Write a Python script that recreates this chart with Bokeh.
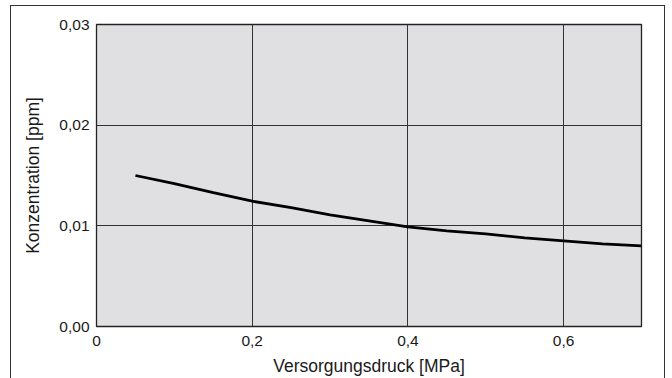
from bokeh.plotting import figure
from bokeh.models import FixedTicker, Range1d, InlineStyleSheet
from bokeh.embed import file_html
from bokeh.resources import INLINE

# data
pressure = [0.05, 0.10, 0.15, 0.20, 0.25, 0.30, 0.35, 0.40, 0.45, 0.50, 0.55, 0.60, 0.65, 0.70]
concentration = [0.0150, 0.0142, 0.0133, 0.01245, 0.0118, 0.0111, 0.0105, 0.0099,
                 0.0095, 0.0092, 0.0088, 0.0085, 0.0082, 0.0080]
x_ticks = [0, 0.2, 0.4, 0.6]
x_tick_labels = ["0", "0,2", "0,4", "0,6"]
y_ticks = [0, 0.01, 0.02, 0.03]
y_tick_labels = ["0,00", "0,01", "0,02", "0,03"]

FONT = "Liberation Sans"

p = figure(width=668, height=378, output_backend="svg", toolbar_location=None,
           x_range=Range1d(0, 0.7), y_range=Range1d(0, 0.03),
           min_border_left=96, min_border_top=24, min_border_right=27,
           min_border_bottom=51)

# outer frame around the whole figure (drawn with CSS)
p.stylesheets = [InlineStyleSheet(css="""
:host { position: relative; }
:host::after {
  content: "";
  position: absolute;
  left: 10px; top: 5px; width: 655px; height: 420px;
  border: 1.3px solid #333333;
  box-sizing: border-box;
  pointer-events: none;
  z-index: 1000;
}
""")]

p.background_fill_color = "#e0e0e2"
p.border_fill_color = "white"
p.outline_line_color = "#222222"
p.outline_line_width = 1.3

p.line(pressure, concentration, line_color="black", line_width=2.8)

for ax in (p.xaxis[0], p.yaxis[0]):
    ax.axis_line_color = None
    ax.major_tick_line_color = None
    ax.minor_tick_line_color = None
    ax.major_tick_out = 0
    ax.major_tick_in = 0
    ax.minor_tick_out = 0
    ax.minor_tick_in = 0
    ax.major_label_text_font = FONT
    ax.major_label_text_font_size = "15.5px"
    ax.major_label_text_color = "#1a1a1a"
    ax.axis_label_text_font = FONT
    ax.axis_label_text_font_size = "17.5px"
    ax.axis_label_text_font_style = "normal"
    ax.axis_label_text_color = "#1a1a1a"

p.xaxis.ticker = FixedTicker(ticks=x_ticks)
p.xaxis.major_label_overrides = dict(zip(x_ticks, x_tick_labels))
p.yaxis.ticker = FixedTicker(ticks=y_ticks)
p.yaxis.major_label_overrides = dict(zip(y_ticks, y_tick_labels))
p.xaxis.axis_label = "Versorgungsdruck [MPa]"
p.yaxis.axis_label = "Konzentration [ppm]"
p.xaxis.major_label_standoff = 9
p.yaxis.major_label_standoff = 7
p.xaxis.axis_label_standoff = 7
p.yaxis.axis_label_standoff = 13

p.grid.grid_line_color = "#333333"
p.grid.grid_line_width = 1
p.xgrid.ticker = FixedTicker(ticks=x_ticks)
p.ygrid.ticker = FixedTicker(ticks=y_ticks)

open("out.html", "w").write(file_html(p, INLINE))
